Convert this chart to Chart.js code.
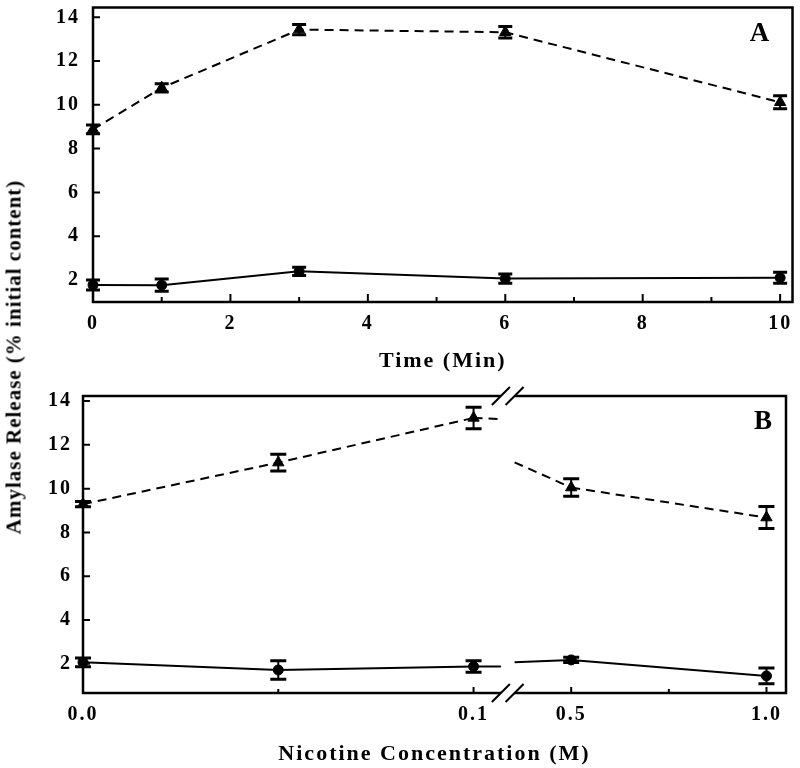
<!DOCTYPE html>
<html><head><meta charset="utf-8">
<script src="https://cdn.jsdelivr.net/npm/chart.js@4.4.1/dist/chart.umd.min.js"></script>
<style>
html,body{margin:0;padding:0;background:#fff;}
#wrap{position:relative;width:800px;height:768px;overflow:hidden;background:#fff;}
#cA{position:absolute;left:0;top:0;}
#cB{position:absolute;left:0;top:380px;}
#ytitle{position:absolute;left:14px;top:357px;transform:translate(-50%,-50%) rotate(-90deg);white-space:nowrap;font-family:"Liberation Serif",serif;font-weight:bold;font-size:21px;letter-spacing:1px;color:#000;}
</style></head><body>
<div id="wrap">
<canvas id="cA" width="800" height="380"></canvas>
<canvas id="cB" width="800" height="388"></canvas>
<div id="ytitle">Amylase Release (% initial content)</div>
</div>
<script>
// ---------- Panel A: time course ----------
const timeMin = [0, 1, 3, 6, 10];
const aStimulated = [8.88, 10.78, 13.44, 13.32, 10.12];
const aStimulatedErr = [0.2, 0.19, 0.23, 0.26, 0.3];
const aBasal = [1.77, 1.76, 2.39, 2.06, 2.1];
const aBasalErr = [0.23, 0.28, 0.19, 0.21, 0.25];
const timeTicks = [0, 1, 2, 3, 4, 5, 6, 7, 8, 9, 10];
const timeTickLabels = ['0', '', '2', '', '4', '', '6', '', '8', '', '10'];
const amylaseTicks = [2, 4, 6, 8, 10, 12, 14];

// ---------- Panel B: nicotine concentration ----------
const nicotineM = [0, 0.05, 0.1, 0.5, 1.0];
const bStimulated = [9.29, 11.19, 13.23, 10.05, 8.68];
const bStimulatedErr = [0.12, 0.38, 0.49, 0.4, 0.5];
const bBasal = [2.07, 1.72, 1.88, 2.18, 1.45];
const bBasalErr = [0.2, 0.42, 0.26, 0.12, 0.36];
const nicotineTicks = [0, 0.05, 0.1, 0.5, 0.75, 1.0];
const nicotineTickLabels = ['0.0', '', '0.1', '0.5', '', '1.0'];

// axis break of panel B (concentration values where the axis is cut)
const breakLow = 0.107, breakHigh = 0.355;
function toAxisPos(v) {
  if (v <= breakLow) return v * 10;
  if (v >= breakHigh) return v + 0.75;
  const a = breakLow * 10, b = breakHigh + 0.75;
  return a + (v - breakLow) / (breakHigh - breakLow) * (b - a);
}
function fromAxisPos(p) {
  const a = breakLow * 10, b = breakHigh + 0.75;
  if (p <= a) return p / 10;
  if (p >= b) return p - 0.75;
  return breakLow + (p - a) / (b - a) * (breakHigh - breakLow);
}

const LinScale = Chart.LinearScale || Chart.registry.getScale('linear');
class BrokenLinearScale extends LinScale {
  determineDataLimits() {
    this.min = toAxisPos(this.options.min);
    this.max = toAxisPos(this.options.max);
  }
  buildTicks() { return nicotineTicks.map(v => ({ value: v })); }
  getPixelForValue(v) { return super.getPixelForValue(toAxisPos(v)); }
  getValueForPixel(px) { return fromAxisPos(super.getValueForPixel(px)); }
}
BrokenLinearScale.id = 'brokenLinear';
BrokenLinearScale.defaults = LinScale.defaults;
Chart.register(BrokenLinearScale);

const FONT = '"Liberation Serif", "Times New Roman", serif';

const sigmaFrame = {
  id: 'sigmaFrame',
  beforeLayout(chart) { chart.ctx.letterSpacing = '2px'; },
  beforeDraw(chart) { chart.ctx.letterSpacing = '2px'; },
  afterDatasetsDraw(chart, args, o) {
    const ctx = chart.ctx, xs = chart.scales.x, ys = chart.scales.y;
    ctx.save();
    ctx.strokeStyle = '#000';
    chart.data.datasets.forEach(ds => {
      const d = ds.data;
      // line pieces across the axis break (straight in data space)
      if (o.axisBreak) {
        for (let j = 0; j < d.length - 1; j++) {
          const p0 = d[j], p1 = d[j + 1];
          if (p0.x < breakLow && p1.x > breakHigh) {
            const yAt = v => p0.y + (p1.y - p0.y) * (v - p0.x) / (p1.x - p0.x);
            ctx.lineWidth = ds.borderWidth;
            ctx.setLineDash(ds.borderDash || []);
            ctx.beginPath();
            ctx.moveTo(xs.getPixelForValue(p0.x), ys.getPixelForValue(p0.y));
            ctx.lineTo(xs.getPixelForValue(breakLow), ys.getPixelForValue(yAt(breakLow)));
            ctx.stroke();
            ctx.beginPath();
            ctx.moveTo(xs.getPixelForValue(breakHigh), ys.getPixelForValue(yAt(breakHigh)));
            ctx.lineTo(xs.getPixelForValue(p1.x), ys.getPixelForValue(p1.y));
            ctx.stroke();
          }
        }
      }
      // error bars
      ctx.setLineDash([]);
      d.forEach((pt, j) => {
        const e = ds.errors[j];
        const px = xs.getPixelForValue(pt.x);
        const yt = ys.getPixelForValue(pt.y + e), yb = ys.getPixelForValue(pt.y - e);
        ctx.lineWidth = 2;
        ctx.beginPath(); ctx.moveTo(px, yt); ctx.lineTo(px, yb); ctx.stroke();
        ctx.lineWidth = 3;
        ctx.beginPath();
        ctx.moveTo(px - o.cap, yt); ctx.lineTo(px + o.cap, yt);
        ctx.moveTo(px - o.cap, yb); ctx.lineTo(px + o.cap, yb);
        ctx.stroke();
      });
    });
    ctx.restore();
  },
  afterDraw(chart, args, o) {
    const ctx = chart.ctx, a = chart.chartArea, xs = chart.scales.x, ys = chart.scales.y;
    ctx.save();
    ctx.setLineDash([]);
    ctx.strokeStyle = '#000';
    // inward tick marks
    ctx.lineWidth = 2;
    ctx.beginPath();
    xs.ticks.forEach(t => {
      const px = xs.getPixelForValue(t.value);
      if (Math.abs(px - a.left) < 2) return;
      const len = t.label === '' ? o.minorLen : o.majorLen;
      ctx.moveTo(px, a.bottom); ctx.lineTo(px, a.bottom - len);
    });
    ys.ticks.forEach(t => {
      const py = ys.getPixelForValue(t.value);
      ctx.moveTo(a.left, py); ctx.lineTo(a.left + o.yLen, py);
    });
    ctx.stroke();
    // frame
    ctx.lineWidth = 2.5;
    ctx.strokeRect(a.left, a.top, a.right - a.left, a.bottom - a.top);
    // axis break marks
    if (o.axisBreak) {
      const xL = xs.getPixelForValue(breakLow), xR = xs.getPixelForValue(breakHigh);
      const h = 9;
      [a.top, a.bottom].forEach(y => {
        ctx.fillStyle = '#fff';
        ctx.beginPath();
        ctx.moveTo(xL - h, y + h); ctx.lineTo(xL + h, y - h);
        ctx.lineTo(xR + h, y - h); ctx.lineTo(xR - h, y + h);
        ctx.closePath(); ctx.fill();
        ctx.lineWidth = 2;
        ctx.beginPath();
        ctx.moveTo(xL - h, y + h); ctx.lineTo(xL + h, y - h);
        ctx.moveTo(xR - h, y + h); ctx.lineTo(xR + h, y - h);
        ctx.stroke();
      });
    }
    // panel letter
    ctx.letterSpacing = '0px';
    ctx.fillStyle = '#000';
    ctx.font = 'bold 27px ' + FONT;
    ctx.textAlign = 'center';
    ctx.textBaseline = 'middle';
    ctx.fillText(o.label, a.right - o.labelDx, a.top + o.labelDy);
    ctx.restore();
  }
};

const tickFont = { family: FONT, size: 20, weight: 'bold' };
const titleFont = { family: FONT, size: 22, weight: 'bold' };

function makeDatasets(xs, stim, stimErr, basal, basalErr, breakAware) {
  const crosses = c => breakAware && xs[c.p0DataIndex] < breakLow && xs[c.p1DataIndex] > breakHigh;
  return [
    {
      data: xs.map((x, i) => ({ x: x, y: stim[i] })),
      errors: stimErr,
      borderColor: '#000', backgroundColor: '#000', borderWidth: 2, borderDash: [9, 6],
      pointStyle: 'triangle', pointRadius: 6.5, pointBorderWidth: 1,
      pointBackgroundColor: '#000', pointBorderColor: '#000',
      tension: 0, clip: false,
      segment: { borderColor: c => crosses(c) ? 'rgba(0,0,0,0)' : undefined }
    },
    {
      data: xs.map((x, i) => ({ x: x, y: basal[i] })),
      errors: basalErr,
      borderColor: '#000', backgroundColor: '#000', borderWidth: 2,
      pointStyle: 'circle', pointRadius: 5, pointBorderWidth: 1,
      pointBackgroundColor: '#000', pointBorderColor: '#000',
      tension: 0, clip: false,
      segment: { borderColor: c => crosses(c) ? 'rgba(0,0,0,0)' : undefined }
    }
  ];
}

function fixX(h) { return s => { s.height = h; s.paddingLeft = 0; s.paddingRight = 0; }; }
function fixY(w) { return s => { s.width = w; s.paddingTop = 0; s.paddingBottom = 0; }; }

new Chart(document.getElementById('cA'), {
  type: 'line',
  data: { datasets: makeDatasets(timeMin, aStimulated, aStimulatedErr, aBasal, aBasalErr, false) },
  options: {
    responsive: false, animation: false, devicePixelRatio: 1,
    layout: { padding: { left: 0, right: 7, top: 3, bottom: 0 } },
    plugins: {
      legend: { display: false }, tooltip: { enabled: false },
      sigmaFrame: { label: 'A', labelDx: 33, labelDy: 27, majorLen: 8, minorLen: 5, yLen: 7, cap: 7, axisBreak: false }
    },
    scales: {
      x: {
        type: 'linear', min: 0, max: 10.18,
        afterBuildTicks: s => { s.ticks = timeTicks.map(v => ({ value: v })); },
        afterFit: fixX(78),
        grid: { display: false, drawTicks: false }, border: { display: false },
        ticks: { autoSkip: false, maxRotation: 0, padding: 10, color: '#000', font: tickFont,
                 callback: (v, i) => timeTickLabels[i] },
        title: { display: true, text: 'Time (Min)', color: '#000', font: titleFont, padding: { top: 0, bottom: 5 } }
      },
      y: {
        type: 'linear', min: 0.99, max: 14.45,
        afterBuildTicks: s => { s.ticks = amylaseTicks.map(v => ({ value: v })); },
        afterFit: fixY(93),
        grid: { display: false, drawTicks: false }, border: { display: false },
        ticks: { autoSkip: false, padding: 13, color: '#000', font: tickFont, callback: v => String(v) }
      }
    }
  },
  plugins: [sigmaFrame]
});

new Chart(document.getElementById('cB'), {
  type: 'line',
  data: { datasets: makeDatasets(nicotineM, bStimulated, bStimulatedErr, bBasal, bBasalErr, true) },
  options: {
    responsive: false, animation: false, devicePixelRatio: 1,
    layout: { padding: { left: 0, right: 14, top: 16, bottom: 0 } },
    plugins: {
      legend: { display: false }, tooltip: { enabled: false },
      sigmaFrame: { label: 'B', labelDx: 23, labelDy: 26, majorLen: 6, minorLen: 4, yLen: 7, cap: 8, axisBreak: true }
    },
    scales: {
      x: {
        type: 'brokenLinear', min: 0, max: 1.05,
        afterFit: fixX(75),
        grid: { display: false, drawTicks: false }, border: { display: false },
        ticks: { autoSkip: false, maxRotation: 0, padding: 10, color: '#000', font: tickFont,
                 callback: (v, i) => nicotineTickLabels[i] },
        title: { display: true, text: 'Nicotine Concentration (M)', color: '#000', font: titleFont, padding: { top: 0, bottom: 0 } }
      },
      y: {
        type: 'linear', min: 0.67, max: 14.23,
        afterBuildTicks: s => { s.ticks = amylaseTicks.map(v => ({ value: v })); },
        afterFit: fixY(83),
        grid: { display: false, drawTicks: false }, border: { display: false },
        ticks: { autoSkip: false, padding: 11, color: '#000', font: tickFont, callback: v => String(v) }
      }
    }
  },
  plugins: [sigmaFrame]
});
</script>
</body></html>
